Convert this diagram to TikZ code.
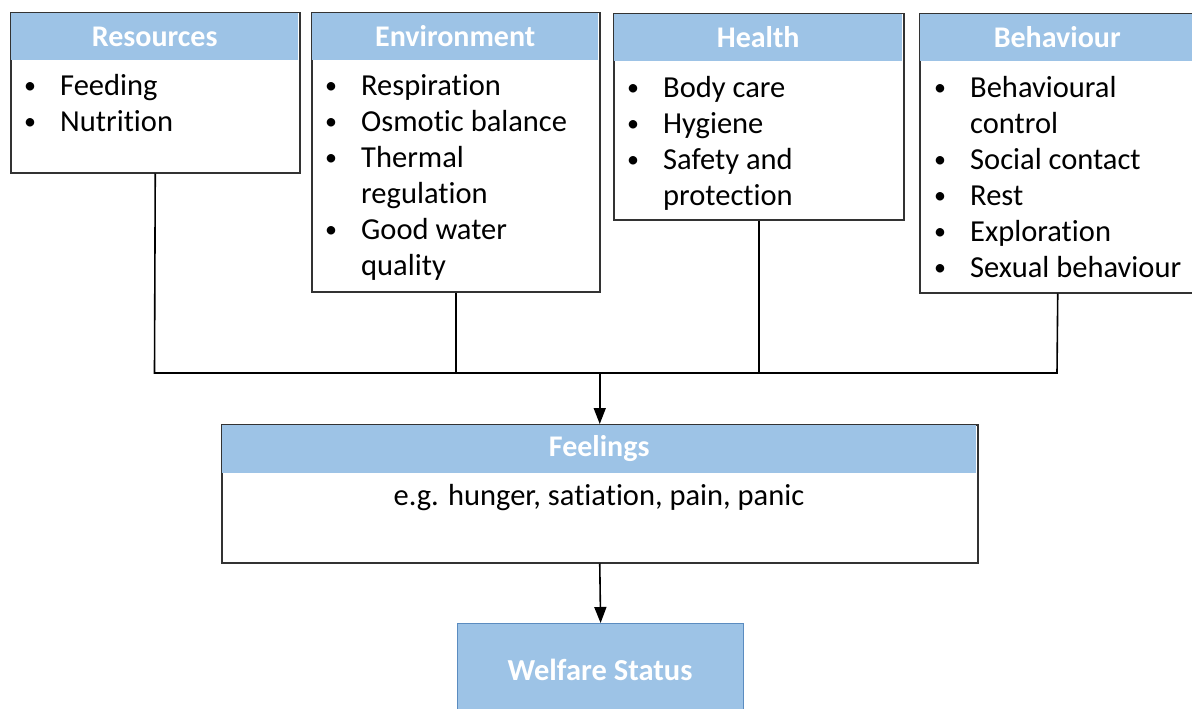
\documentclass[tikz,border=0pt]{standalone}
\usepackage{fontspec}
\setmainfont{Carlito}[Ligatures=NoCommon]
\usetikzlibrary{arrows.meta}
\definecolor{hdrblue}{HTML}{9DC3E6}
\definecolor{boxline}{HTML}{333333}
\definecolor{welline}{HTML}{5B8CC0}
\tikzset{
  boxframe/.style={draw=boxline, line width=1.5pt, fill=white, rectangle, inner sep=0pt, anchor=north west},
  hdr/.style={fill=hdrblue, rectangle, inner sep=0pt, anchor=north west, text=white, font=\fontsize{30}{34}\selectfont\bfseries},
  body/.style={anchor=north west, inner sep=0pt, align=left, font=\fontsize{30.5}{36}\selectfont},
  conn/.style={draw=black, line width=1.6pt},
  arr/.style={conn, -{Triangle[width=12pt,length=16pt]}}
}
\newcommand{\bl}{\rule{0pt}{26pt}\makebox[36pt][l]{\raisebox{1.5pt}{\fontsize{24}{24}\selectfont •}}}
\newcommand{\ind}{\hspace*{36pt}}
\begin{document}
\begin{tikzpicture}[x=1pt,y=-1pt]
\useasboundingbox (0,0) rectangle (1192,709);
% Resources
\node[boxframe, minimum width=289pt, minimum height=160pt] (res) at (10,12) {};
\node[hdr, minimum width=287.5pt, minimum height=47pt] (resh) at (10.75,12.75) {Resources};
\node[body] (resb) at (24,69) {\bl Feeding\\ \bl Nutrition};
% Environment
\node[boxframe, minimum width=288pt, minimum height=279pt] (env) at (311,12) {};
\node[hdr, minimum width=286.5pt, minimum height=47pt] (envh) at (311.75,12.75) {Environment};
\node[body] (envb) at (325,69) {\bl Respiration\\ \bl Osmotic balance\\ \bl Thermal\\ \ind regulation\\ \bl Good water\\ \ind quality};
% Health
\node[boxframe, minimum width=290pt, minimum height=206pt] (hea) at (613,13) {};
\node[hdr, minimum width=288.5pt, minimum height=47pt] (heah) at (613.75,13.75) {Health};
\node[body] (heab) at (627,71) {\bl Body care\\ \bl Hygiene\\ \bl Safety and\\ \ind protection};
% Behaviour
\node[boxframe, minimum width=276pt, minimum height=279pt] (beh) at (919,13) {};
\node[hdr, minimum width=274.5pt, minimum height=47pt] (behh) at (919.75,13.75) {\hspace*{-3pt}Behaviour\hspace*{-3pt}};
\node[body] (behb) at (934,71) {\bl Behavioural\\ \ind control\\ \bl Social contact\\ \bl Rest\\ \bl Exploration\\ \bl Sexual behaviour};
% Feelings
\node[boxframe, minimum width=756pt, minimum height=138pt] (feel) at (221,424) {};
\node[hdr, minimum width=754.5pt, minimum height=48pt] (feelh) at (221.75,424.75) {Feelings};
\node[anchor=center, inner sep=0pt, font=\fontsize{30.5}{34}\selectfont] (feelb) at (599,498) {e.g. hunger, satiation, pain, panic};
% Welfare
\node[draw=welline, line width=1.2pt, fill=hdrblue, rectangle, inner sep=0pt, anchor=north west, minimum width=286pt, minimum height=100pt] (wel) at (457,623) {};
\node[text=white, inner sep=0pt, font=\fontsize{30.5}{34}\selectfont\bfseries] (welt) at (600,670) {Welfare Status};
% connectors
\coordinate (busL) at (154.5,373);
\coordinate (busR) at (1057,373);
\draw[conn] (res.south) -- (busL) -- (busR) -- (beh.south);
\draw[conn] (env.south) -- (env.south |- busL);
\draw[conn] (hea.south) -- (hea.south |- busL);
\draw[arr] (feel.north |- busL) -- (feel.north);
\draw[arr] (feel.south) -- (wel.north);
\end{tikzpicture}
\end{document}
